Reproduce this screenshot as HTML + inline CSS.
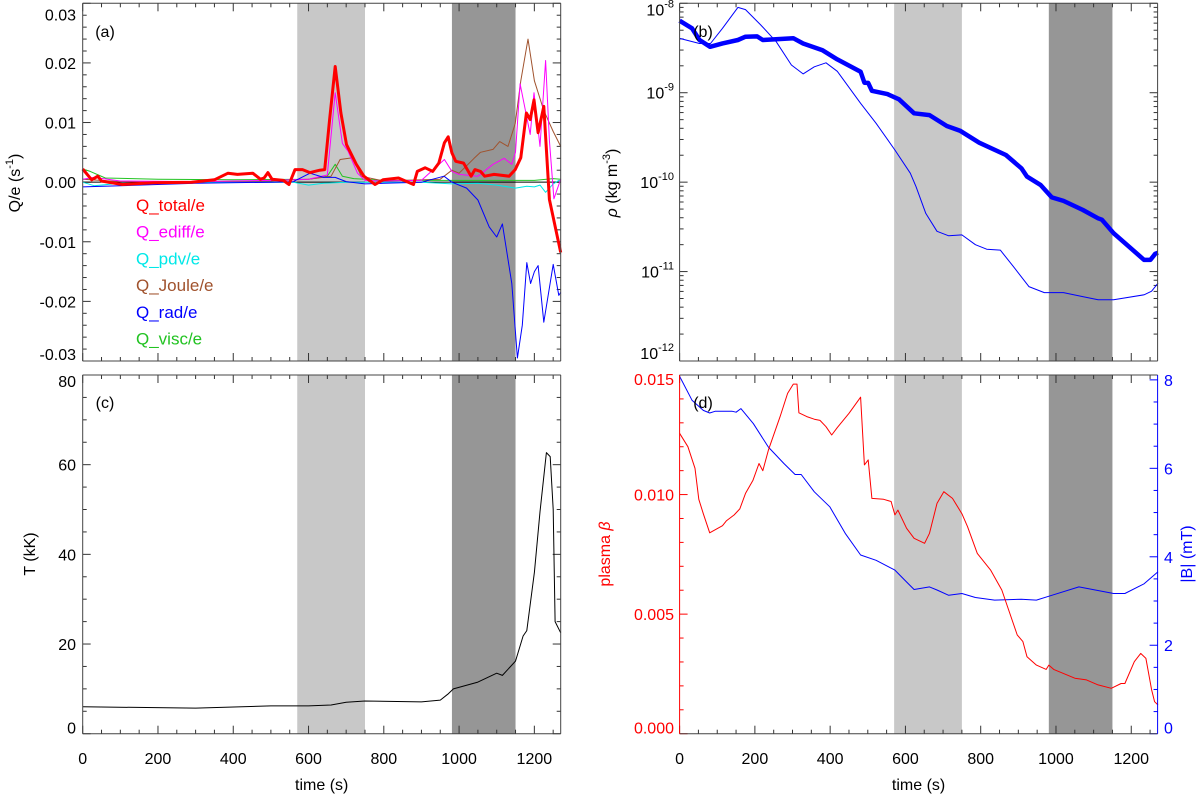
<!DOCTYPE html>
<html><head><meta charset="utf-8"><style>
html,body{margin:0;padding:0;background:#fff}
svg{display:block;font-family:"Liberation Sans",Arial,sans-serif}
</style></head><body>
<svg id="chart" width="1200" height="795" viewBox="0 0 1200 795" xmlns="http://www.w3.org/2000/svg"></svg>
<script>
// ---- data ----
const tTot=[0,24,40,50,75,106,187,289,350,386,411,452,472,482,492,503,533,548,564,584,604,630,643,656,671,686,701,727,747,777,798,839,879,889,910,930,946,961,971,981,991,1012,1032,1042,1057,1068,1093,1133,1149,1164,1179,1189,1199,1210,1225,1240,1270];
const qTot=[0.0022,0.0004,0.001,0.0002,-0.0001,-0.0004,-0.0001,0,0.0004,0.0015,0.0013,0.0015,0.0005,0.0007,0.0016,0.0005,0.0003,-0.0004,0.0021,0.0021,0.0016,0.002,0.0021,0.0105,0.0194,0.0116,0.0063,0.003,0.001,-0.0004,0.0004,0.0007,-0.0004,0.0018,0.0024,0.0018,0.0032,0.0066,0.0076,0.0049,0.0035,0.0032,0.001,0.0021,0.0018,0.001,0.0013,0.001,0.0021,0.0041,0.0116,0.0105,0.0138,0.0083,0.0127,-0.0029,-0.0118];
const tEd=[0,30,100,300,500,600,650,671,690,705,730,750,800,900,961,981,1000,1050,1090,1120,1140,1150,1162,1189,1199,1215,1230,1240,1252,1270];
const qEd=[0.0005,0.0008,0.0002,0.0001,0.0003,0.0005,0.0012,0.015,0.0065,0.0052,0.0015,0.0003,0.0002,0.0003,0.0038,0.0018,0.0013,0.001,0.003,0.004,0.003,0.005,0.0165,0.008,0.015,0.006,0.0204,0.007,-0.0028,0.0005];
const tJo=[0,100,300,500,600,660,684,717,740,800,950,981,1000,1040,1057,1090,1108,1130,1149,1164,1183,1200,1225,1250,1270];
const qJo=[0.0005,0.0001,0.0001,0.0002,0.0005,0.001,0.0038,0.0041,0.001,0.0002,0.0005,0.002,0.0015,0.004,0.005,0.0055,0.0068,0.006,0.0098,0.017,0.024,0.017,0.012,0.0085,0.006];
const tRad=[0,100,300,500,560,604,640,671,700,750,800,900,960,981,1020,1050,1080,1100,1115,1140,1155,1168,1180,1190,1200,1210,1225,1250,1265,1270];
const qRad=[-0.0008,-0.0006,-0.0002,0,0.0001,0.0015,0.0008,0.0008,0.0001,-0.0003,-0.0002,0,0.001,0,-0.001,-0.003,-0.0075,-0.0092,-0.007,-0.017,-0.0295,-0.024,-0.0135,-0.017,-0.015,-0.014,-0.0235,-0.0138,-0.019,-0.0185];
const tPdv=[0,30,100,300,560,600,640,700,900,981,1050,1100,1150,1180,1200,1215,1230,1250,1265,1270];
const qPdv=[0,-0.0006,-0.0002,0,0,-0.0005,-0.0002,0,0,-0.0003,-0.0002,-0.0005,-0.001,-0.0007,-0.0008,-0.0005,-0.0017,-0.0003,0.0003,0.0002];
const tVis=[0,20,60,200,400,600,650,671,690,720,800,1000,1200,1250,1270];
const qVis=[0.0022,0.0018,0.0007,0.0005,0.0004,0.0005,0.001,0.003,0.001,0.0006,0.0003,0.0003,0.0003,0.0006,0.0005];
const tRho=[0,33,53,81,114,155,175,206,221,302,328,379,419,481,491,501,511,552,583,623,664,710,745,796,867,908,923,959,989,1020,1071,1112,1122,1153,1234,1251,1264,1271];
const logRhoThick=[-8.195,-8.28,-8.41,-8.486,-8.448,-8.41,-8.374,-8.37,-8.41,-8.39,-8.45,-8.523,-8.627,-8.765,-8.888,-8.89,-8.978,-9.015,-9.074,-9.23,-9.25,-9.372,-9.425,-9.559,-9.696,-9.845,-9.938,-10.031,-10.17,-10.21,-10.31,-10.404,-10.42,-10.571,-10.87,-10.87,-10.80,-10.79];
const tRho2=[0,53,82,114,155,175,216,257,297,328,358,389,419,481,522,572,613,628,654,684,715,750,786,816,852,887,928,969,1020,1071,1112,1153,1234,1254,1271];
const logRhoThin=[-8.392,-8.45,-8.45,-8.28,-8.046,-8.07,-8.244,-8.43,-8.69,-8.79,-8.71,-8.665,-8.76,-9.118,-9.342,-9.64,-9.90,-10.05,-10.35,-10.55,-10.60,-10.59,-10.70,-10.75,-10.76,-10.944,-11.168,-11.235,-11.235,-11.28,-11.316,-11.316,-11.26,-11.22,-11.13];
const tT=[0,300,500,600,660,700,750,900,950,970,985,1050,1100,1115,1150,1170,1180,1200,1215,1232,1242,1250,1255,1270];
const tempK=[6.0,5.7,6.2,6.2,6.4,7.0,7.3,7.1,7.5,8.8,10,11.5,13.5,13,16.2,21.8,23,36,49.5,62.7,61.8,50,25,22.5];
const tBeta=[0,22,41,51,63,80,114,124,145,160,175,195,211,221,236,267,287,302,312,317,338,358,373,389,404,419,450,481,491,501,511,542,562,572,580,603,623,651,664,684,702,725,750,765,791,826,856,897,912,923,948,974,981,994,1050,1081,1112,1147,1173,1183,1208,1225,1239,1254,1262,1271];
const beta=[0.01256,0.0120,0.0111,0.0098,0.0092,0.0084,0.0087,0.0089,0.00915,0.0094,0.01005,0.0106,0.0113,0.0110,0.01186,0.01326,0.01423,0.01462,0.01462,0.01342,0.01326,0.01315,0.0131,0.01284,0.01249,0.0128,0.0134,0.01407,0.01124,0.01145,0.00984,0.0098,0.00971,0.00915,0.00935,0.00859,0.00817,0.00796,0.00838,0.00963,0.01012,0.00984,0.0092,0.00866,0.00754,0.00685,0.00601,0.00413,0.00385,0.00322,0.00287,0.00269,0.00287,0.00269,0.00232,0.00225,0.00204,0.0019,0.0021,0.0021,0.00301,0.00336,0.00315,0.00184,0.00134,0.0012];
const tB=[0,33,63,80,94,140,150,163,196,236,277,307,323,358,399,440,481,522,572,603,623,664,684,715,750,786,837,908,948,989,1061,1153,1183,1234,1271];
const bMag=[8.08,7.54,7.31,7.25,7.29,7.29,7.27,7.35,7.01,6.48,6.11,5.86,5.86,5.47,5.13,4.53,4.04,3.92,3.70,3.43,3.26,3.32,3.25,3.13,3.17,3.08,3.02,3.04,3.02,3.13,3.32,3.17,3.17,3.39,3.66];
const xTicks=[0,200,400,600,800,1000,1200];
const shadeLight=[570,750];
const shadeDark=[981,1150];

// ---- drawing ----
const NS="http://www.w3.org/2000/svg";
const svg=document.getElementById('chart');
function mk(tag,attrs,parent){const e=document.createElementNS(NS,tag);for(const k in attrs)e.setAttribute(k,attrs[k]);(parent||svg).appendChild(e);return e;}
const L=[82.7,679.6], W=478, T0=[3.3,375], H=[357.7,358.7];
const XMAX=1270;
function xs(col){return t=>L[col]+t/XMAX*W;}

function frame(g,col,row,name){
  const x0=L[col],y0=T0[row],h=H[row],x=xs(col);
  const r1=mk('rect',{x:x(shadeLight[0]),y:y0,width:x(shadeLight[1])-x(shadeLight[0]),height:h,fill:'#c8c8c8'},g);
  
  
  const r2=mk('rect',{x:x(shadeDark[0]),y:y0,width:x(shadeDark[1])-x(shadeDark[0]),height:h,fill:'#969696'},g);
  
  
  // x ticks
  for(let t=0;t<=XMAX;t+=50){const len=t%200===0?8:4;const px=x(t);
    mk('line',{x1:px,y1:y0+h,x2:px,y2:y0+h-len,stroke:'#333','stroke-width':1},g);
    mk('line',{x1:px,y1:y0,x2:px,y2:y0+len,stroke:'#333','stroke-width':1},g);}
  if(row===1){xTicks.forEach(t=>{const tx=mk('text',{x:x(t),y:764,'font-size':16,'text-anchor':'middle',fill:'#000'},g);tx.textContent=t;
      
      });
    const xt=mk('text',{x:x0+W/2,y:790,'font-size':16,'text-anchor':'middle'},g);xt.textContent='time (s)';
    
    }
}
function border(g,col,row,lc,rc){const x0=L[col],y0=T0[row],h=H[row];
  mk('line',{x1:x0,y1:y0,x2:x0+W,y2:y0,stroke:'#444'},g);
  mk('line',{x1:x0,y1:y0+h,x2:x0+W,y2:y0+h,stroke:'#444'},g);
  mk('line',{x1:x0,y1:y0,x2:x0,y2:y0+h,stroke:lc||'#444'},g);
  mk('line',{x1:x0+W,y1:y0,x2:x0+W,y2:y0+h,stroke:rc||'#444'},g);}
function yTicks(g,col,row,ys,min,max,major,minor,fmt,side,color){
  const x0=L[col];
  for(let v=min;v<=max+1e-9;v+=minor){const isM=Math.abs(Math.round(v/major)*major-v)<1e-9;const len=isM?8:4;const py=ys(v);
    if(side!=='right')mk('line',{x1:x0,y1:py,x2:x0+len,y2:py,stroke:color||'#333'},g);
    if(side!=='left')mk('line',{x1:x0+W,y1:py,x2:x0+W-len,y2:py,stroke:color||'#333'},g);}
}
function ylab(g,x,y,txt,anchor,color){const e=mk('text',{x:x,y:y,'font-size':16,'text-anchor':anchor,fill:color||'#000'},g);e.textContent=txt;
  
  return e;}
function line(g,tx,vy,xf,yf,color,w,name){const pts=tx.map((t,i)=>xf(t).toFixed(1)+','+yf(vy[i]).toFixed(1)).join(' ');
  const p=mk('polyline',{points:pts,fill:'none',stroke:color,'stroke-width':w,'stroke-linejoin':'round'},g);
  
  return p;}
function title(g,x,y,html,color,name){const e=mk('text',{x:0,y:0,'font-size':16,'text-anchor':'middle',fill:color||'#000',transform:`translate(${x},${y}) rotate(-90)`},g);e.innerHTML=html;
  
  return e;}
function plabel(g,x,y,t){const e=mk('text',{x:x,y:y,'font-size':16,'text-anchor':'middle'},g);e.textContent=t;
  
  }

// panel a
const ga=mk('g',{});


frame(ga,0,0);
const xa=xs(0); const ya=v=>T0[0]+(0.03-v)/0.06*H[0];
yTicks(ga,0,0,ya,-0.03,0.03,0.01,0.002);
[[0.03,'0.03',17],[0.02,'0.02',6],[0.01,'0.01',6],[0,'0.00',6],[-0.01,'-0.01',6],[-0.02,'-0.02',6],[-0.03,'-0.03',-1]].forEach(a=>ylab(ga,76,ya(a[0])+a[2],a[1],'end'));
mk('line',{x1:xa(0),y1:ya(0),x2:xa(XMAX),y2:ya(0),stroke:'#000','stroke-width':1},ga);
line(ga,tVis,qVis,xa,ya,'#22c322',1,'series-q-visc');
line(ga,tPdv,qPdv,xa,ya,'#00e8e8',1,'series-q-pdv');
line(ga,tJo,qJo,xa,ya,'#a0522d',1,'series-q-joule');
line(ga,tEd,qEd,xa,ya,'#ff00ff',1,'series-q-ediff');
line(ga,tRad,qRad,xa,ya,'#0000ff',1,'series-q-rad');
line(ga,tTot,qTot,xa,ya,'#ff0000',3,'series-q-total');
border(ga,0,0);
title(ga,20,183,'Q/e (s<tspan dy="-7" font-size="11">-1</tspan><tspan dy="7">)</tspan>','#000','y-axis-title-a');
plabel(ga,105,37,'(a)');
[['Q_total/e','#ff0000'],['Q_ediff/e','#ff00ff'],['Q_pdv/e','#00e8e8'],['Q_Joule/e','#a0522d'],['Q_rad/e','#0000ff'],['Q_visc/e','#22c322']].forEach((l,i)=>{
  const e=mk('text',{x:136,y:211+i*26.7,'font-size':17,fill:l[1]},ga);e.textContent=l[0];
  
  });

// panel b
const gb=mk('g',{});


frame(gb,1,0);
const xb=xs(1); const yb=lv=>T0[0]+(-8-lv)/4*H[0];
for(let d=-12;d<=-8;d++){[1,2,3,4,5,6,7,8,9].forEach(m=>{if(d===-8&&m>1)return;const lv=d+Math.log10(m);const len=m===1?8:4;const py=yb(lv);
  mk('line',{x1:L[1],y1:py,x2:L[1]+len,y2:py,stroke:'#333'},gb);mk('line',{x1:L[1]+W,y1:py,x2:L[1]+W-len,y2:py,stroke:'#333'},gb);});
  const off=d===-8?12:(d===-12?-2:6);
  const e=ylab(gb,674,yb(d)+off,'','end');e.innerHTML=`10<tspan dy="-8" font-size="11">${d}</tspan>`;}
line(gb,tRho2,logRhoThin,xb,yb,'#0000ff',1,'series-rho-thin');
line(gb,tRho,logRhoThick,xb,yb,'#0000ff',4.5,'series-rho-thick');
border(gb,1,0);
title(gb,617,183,'<tspan font-style="italic">ρ</tspan> (kg m<tspan dy="-7" font-size="11">-3</tspan><tspan dy="7">)</tspan>','#000','y-axis-title-b');
plabel(gb,703,37,'(b)');

// panel c
const gc=mk('g',{});


frame(gc,0,1);
const yc=v=>T0[1]+(80-v)/80*H[1];
yTicks(gc,0,1,yc,0,80,20,5);
[[80,12],[60,6],[40,6],[20,6],[0,0]].forEach(a=>ylab(gc,76,yc(a[0])+a[1],String(a[0]),'end'));
line(gc,tT,tempK,xa,yc,'#000',1,'series-temperature');
border(gc,0,1);
title(gc,35,554,'T (kK)','#000','y-axis-title-c');
plabel(gc,105,408,'(c)');

// panel d
const gd=mk('g',{});


frame(gd,1,1);
const ydl=v=>T0[1]+(0.015-v)/0.015*H[1];
const ydr=v=>T0[1]+(8.11-v)/8.11*H[1];
yTicks(gd,1,1,ydl,0,0.015,0.005,0.001,null,'left','#ff0000');
yTicks(gd,1,1,ydr,0,8,2,0.5,null,'right','#0000ff');
[[0.015,'0.015',10],[0.01,'0.010',6],[0.005,'0.005',6],[0,'0.000',0]].forEach(a=>ylab(gd,674,ydl(a[0])+a[2],a[1],'end','#ff0000'));
[8,6,4,2,0].forEach(v=>ylab(gd,1164,ydr(v)+(v===0?0:6),String(v),'start','#0000ff'));
line(gd,tB,bMag,xb,ydr,'#0000ff',1,'series-b-magnitude');
line(gd,tBeta,beta,xb,ydl,'#ff0000',1,'series-plasma-beta');
border(gd,1,1,'#ff0000','#0000ff');
title(gd,610,554,'plasma <tspan font-style="italic">β</tspan>','#ff0000','y-axis-title-left-d');
title(gd,1192,554,'|B| (mT)','#0000ff','y-axis-title-right-d');
plabel(gd,703,408,'(d)');
</script>
</body></html>
